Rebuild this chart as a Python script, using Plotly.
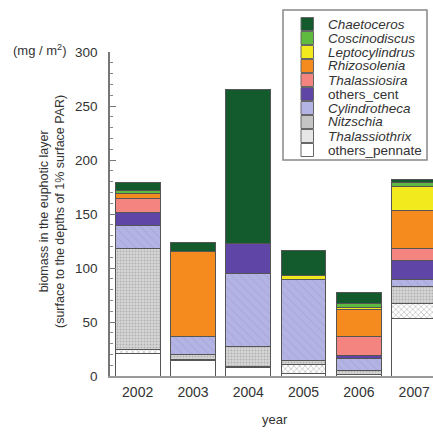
import plotly.graph_objects as go

years = ["2002", "2003", "2004", "2005", "2006", "2007"]

# stacked from bottom to top
others_pennate = [21.0, 14.2, 7.6, 2.5, 1.0, 53.4]
thalassiothrix = [3.7, 1.5, 1.0, 8.6, 0.0, 13.3]
nitzschia = [92.9, 4.4, 18.5, 3.7, 3.9, 16.0]
cylindrotheca = [21.3, 16.9, 68.0, 75.0, 11.5, 6.2]
others_cent = [12.3, 0.0, 27.8, 0.0, 3.0, 17.9]
thalassiosira = [13.0, 0.0, 0.0, 0.0, 17.0, 11.4]
rhizosolenia = [5.0, 78.1, 0.0, 0.0, 25.3, 34.6]
leptocylindrus = [0.0, 0.0, 0.0, 3.7, 1.5, 22.5]
coscinodiscus = [2.4, 0.0, 0.0, 0.0, 3.5, 3.7]
chaetoceros = [7.4, 8.3, 142.6, 22.5, 10.4, 3.1]

series = [
    ("others_pennate", others_pennate, "#ffffff", None),
    ("Thalassiothrix", thalassiothrix, "#ffffff", dict(shape="x", fgcolor="#8a8a8a", size=4, solidity=0.35, fillmode="overlay")),
    ("Nitzschia", nitzschia, "#d6d6d6", dict(shape=".", fgcolor="#8c8c8c", size=3, solidity=0.35, fillmode="overlay")),
    ("Cylindrotheca", cylindrotheca, "#b4b4e4", dict(shape="\\", fgcolor="#9c9cd2", size=6, solidity=0.2, fillmode="overlay")),
    ("others_cent", others_cent, "#5f45a5", None),
    ("Thalassiosira", thalassiosira, "#f4847f", None),
    ("Rhizosolenia", rhizosolenia, "#f58a1f", None),
    ("Leptocylindrus", leptocylindrus, "#f3ea1d", None),
    ("Coscinodiscus", coscinodiscus, "#5fbb3f", None),
    ("Chaetoceros", chaetoceros, "#135b2d", None),
]
italic = {"Thalassiothrix", "Nitzschia", "Cylindrotheca", "Thalassiosira",
          "Rhizosolenia", "Leptocylindrus", "Coscinodiscus", "Chaetoceros"}

FONT = "Liberation Sans, Arial, sans-serif"
TXT = "#333333"

fig = go.Figure()
for name, vals, color, pat in series:
    marker = dict(color=color, line=dict(color="#555555", width=1))
    if pat:
        marker["pattern"] = pat
    fig.add_trace(go.Bar(x=years, y=vals, name=name, marker=marker, showlegend=False))

PLOT_L, PLOT_R, PLOT_T, PLOT_B = 110, 433, 52, 376  # window pixels
W, H = 433, 436
L, T, R = PLOT_L, PLOT_T, 0
B = H - PLOT_B
PW, PH = PLOT_R - PLOT_L, PLOT_B - PLOT_T


def px(xp):
    return (xp - PLOT_L) / PW


def py(yp):
    return (PLOT_B - yp) / PH


shapes = []
annotations = []
# legend box
shapes.append(dict(type="rect", xref="paper", yref="paper",
                   x0=px(283), x1=px(427), y0=py(160), y1=py(10),
                   line=dict(color="#888888", width=1.5), fillcolor="white", layer="above"))
swatch_fill = {
    "Thalassiothrix": "#e6e6e6",
    "Nitzschia": "#c4c4c4",
    "Cylindrotheca": "#b4b4e4",
}
legend_order = list(reversed(series))
for i, (name, vals, color, pat) in enumerate(legend_order):
    cy = 24 + i * 14.0
    shapes.append(dict(type="rect", xref="paper", yref="paper",
                       x0=px(301), x1=px(313.5), y0=py(cy + 6.5), y1=py(cy - 6.5),
                       line=dict(color="#666666", width=1),
                       fillcolor=swatch_fill.get(name, color), layer="above"))
    label = f"<i>{name}</i>" if name in italic else name
    annotations.append(dict(xref="paper", yref="paper", x=px(326), y=py(cy),
                            text=label, showarrow=False, xanchor="left", yanchor="middle",
                            font=dict(family=FONT, size=13.5, color=TXT)))

annotations.append(dict(xref="paper", yref="paper", x=px(39), y=py(50),
                        text="(mg / m<sup>2</sup>)", showarrow=False,
                        xanchor="center", yanchor="middle",
                        font=dict(family=FONT, size=13, color=TXT)))
annotations.append(dict(xref="paper", yref="paper", x=px(52), y=py(212),
                        text="biomass in the euphotic layer<br>(surface to the depths of 1% surface PAR)",
                        showarrow=False, textangle=-90, xanchor="center", yanchor="middle",
                        font=dict(family=FONT, size=12.5, color=TXT)))
annotations.append(dict(xref="paper", yref="paper", x=px(275), y=py(419),
                        text="year", showarrow=False, xanchor="center", yanchor="middle",
                        font=dict(family=FONT, size=13, color=TXT)))

fig.update_layout(
    barmode="stack",
    bargap=0.19,
    width=W, height=H,
    margin=dict(l=L, r=R, t=T, b=B, pad=0),
    paper_bgcolor="white", plot_bgcolor="white",
    font=dict(family=FONT, color=TXT),
    shapes=shapes,
    annotations=annotations,
    showlegend=False,
)
fig.update_xaxes(
    type="category", range=[-0.5, 5.34],
    showline=True, linecolor="#999999", linewidth=1.5,
    ticks="", showgrid=False, zeroline=False,
    tickfont=dict(family=FONT, size=14, color=TXT),
    ticklabelstandoff=2,
)
fig.update_yaxes(
    range=[0, 300], dtick=50, tick0=0,
    showline=True, linecolor="#777777", linewidth=1.5,
    ticks="inside", ticklen=6, tickcolor="#777777", tickwidth=1,
    minor=dict(ticks="inside", ticklen=3, dtick=10, tickcolor="#888888", tickwidth=1),
    showgrid=False, zeroline=False,
    tickfont=dict(family=FONT, size=13.5, color=TXT),
    ticklabelstandoff=8,
)

fig.write_html(
    "out.html",
    config={"displayModeBar": False},
    post_script="document.body.style.margin='0';document.body.style.overflow='hidden';",
)
